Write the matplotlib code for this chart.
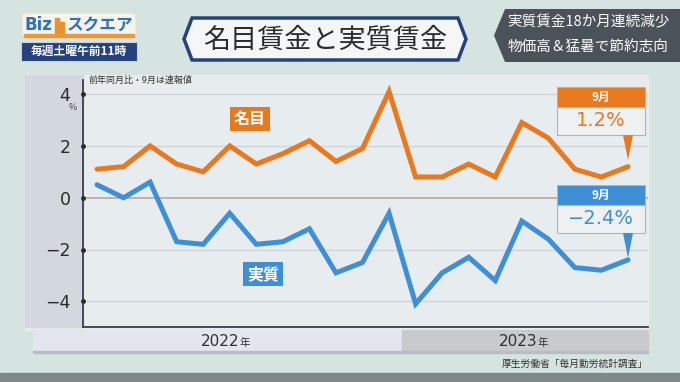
import numpy as np
import matplotlib
matplotlib.use("Agg")
from matplotlib import pyplot as plt
from matplotlib.patches import Rectangle, Polygon, FancyBboxPatch

plt.rcParams['font.family'] = ['Noto Sans CJK JP', 'DejaVu Sans']

# 2022年1月〜2023年9月 前年同月比(%)
months = ['2022-01', '2022-02', '2022-03', '2022-04', '2022-05', '2022-06', '2022-07',
          '2022-08', '2022-09', '2022-10', '2022-11', '2022-12', '2023-01', '2023-02',
          '2023-03', '2023-04', '2023-05', '2023-06', '2023-07', '2023-08', '2023-09']
nominal = [1.1, 1.2, 2.0, 1.3, 1.0, 2.0, 1.3, 1.7, 2.2, 1.4, 1.9, 4.1, 0.8, 0.8,
           1.3, 0.8, 2.9, 2.3, 1.1, 0.8, 1.2]
real = [0.5, 0.0, 0.6, -1.7, -1.8, -0.6, -1.8, -1.7, -1.2, -2.9, -2.5, -0.6, -4.1, -2.9,
        -2.3, -3.2, -0.9, -1.6, -2.7, -2.8, -2.4]
yticks = [4, 2, 0, -2, -4]
years = ['2022', '2023']

W, H = 680, 382
ORANGE = '#e8791f'
BLUE = '#3f8fd6'
NAVY = '#24427e'

fig = plt.figure(figsize=(W / 100, H / 100), dpi=100)
fig.patch.set_facecolor('#d6e4e1')

# 背景(ピクセル座標)
bg = fig.add_axes([0, 0, 1, 1])
bg.set_xlim(0, W)
bg.set_ylim(H, 0)
bg.axis('off')
bg.add_patch(Rectangle((0, 373), W, 9, color='#7d8a88', zorder=0))
bg.add_patch(Rectangle((25, 75), 623, 255, color='#e7ecef', zorder=1))
bg.add_patch(Rectangle((25, 75), 58, 252, color='#d3d8df', zorder=1))

# ロゴ
bg.add_patch(FancyBboxPatch((22, 13), 114, 25, boxstyle='round,pad=0,rounding_size=4',
                            fc='#f6f4ea', ec='#e8e0c8', lw=0.8, zorder=2))
bg.add_patch(Rectangle((24, 34), 110, 2.5, color='#e89a3a', zorder=3))
bg.text(38, 25, 'Biz', color='#2f6fc8', fontsize=12, fontweight='bold', ha='center', va='center', zorder=4,
        family=['DejaVu Sans'])
bg.add_patch(Rectangle((55, 18), 4, 15, color='#e8922e', zorder=4))
bg.add_patch(Rectangle((60, 22), 4, 11, color='#e8922e', zorder=4))
bg.text(100, 25, 'スクエア', color='#2f6fc8', fontsize=12, fontweight='bold', ha='center', va='center', zorder=4)
bg.add_patch(Rectangle((21, 42), 116, 19, color=NAVY, ec='#c8d0e0', lw=0.8, zorder=2))
bg.text(79, 51.5, '毎週土曜午前11時', color='white', fontsize=8.5, fontweight='bold', ha='center', va='center', zorder=4)

# タイトル
title_box = Polygon([(192, 18), (458, 18), (466, 39), (458, 60), (192, 60), (184, 39)],
                    closed=True, fc='#f4f6f8', ec=NAVY, lw=2.5, zorder=2)
bg.add_patch(title_box)
bg.text(325, 40, '名目賃金と実質賃金', color='#2b2b2b', fontsize=19.5, ha='center', va='center', zorder=4)

# 右上
sub_box = Polygon([(505, 9), (680, 9), (680, 62), (505, 62), (494, 35.5)],
                  closed=True, fc='#4b525a', ec='none', zorder=2)
bg.add_patch(sub_box)
bg.text(588, 22, '実質賃金18か月連続減少', color='white', fontsize=10.5, ha='center', va='center', zorder=4)
bg.text(588, 47, '物価高＆猛暑で節約志向', color='white', fontsize=10.5, ha='center', va='center', zorder=4)

# 年の帯
x0 = 97
dx = 26.55
def px(i):
    return x0 + dx * i

split = px(len([m for m in months if m.startswith(years[0])]) - 0.5)
bg.add_patch(Rectangle((33, 330), split - 33, 22, color='#e3e6ee', zorder=2))
bg.add_patch(Rectangle((split, 330), 648 - split, 22, color='#c9cacd', zorder=2))
bg.add_patch(Rectangle((33, 351), 615, 1.5, color='#b8bcc4', zorder=2))
for cx, yr in [(230, years[0]), (528, years[1])]:
    bg.text(cx + 9, 342, yr, color='#303030', fontsize=11, ha='right', va='center', zorder=4,
            family=['DejaVu Sans'])
    bg.text(cx + 9, 343, '年', color='#303030', fontsize=7.5, ha='left', va='center', zorder=4)
bg.text(648, 364, '厚生労働省「毎月勤労統計調査」', color='#333333', fontsize=7, ha='right', va='center', zorder=4)

# データ軸
left, right, top, bottom = 83, 648, 75, 327
ax = fig.add_axes([left / W, 1 - bottom / H, (right - left) / W, (bottom - top) / H])
ax.patch.set_alpha(0)
ax.set_xlim((left - x0) / dx, (right - x0) / dx)
ax.set_ylim((197.7 - bottom) / 25.9, (197.7 - top) / 25.9)
for s in ['top', 'right']:
    ax.spines[s].set_visible(False)
ax.spines['left'].set_color('#3a3f4a')
ax.spines['left'].set_linewidth(1.3)
ax.spines['left'].set_bounds(ax.get_ylim()[0], 4.55)
ax.spines['bottom'].set_color('#3a3f4a')
ax.spines['bottom'].set_linewidth(1.3)
ax.set_xticks([])
ax.set_yticks(yticks)
ax.set_yticklabels([str(t).replace('-', '−') for t in yticks], fontsize=12.5, color='#2a2a2a',
                   family=['DejaVu Sans'])
ax.tick_params(axis='y', length=0, pad=9)
for t in yticks:
    ax.axhline(t, color='#b9a4a4' if t == 0 else '#cfd3d8', lw=1.2 if t == 0 else 0.9, zorder=1)
    ax.plot([ax.get_xlim()[0]], [t], 'o', color='#2a2a2a', ms=2.5, clip_on=False, zorder=5)

xs = np.arange(len(months))
ax.plot(xs, nominal, color=ORANGE, lw=3.6, solid_joinstyle='miter', solid_capstyle='round', zorder=3)
ax.plot(xs, real, color=BLUE, lw=3.6, solid_joinstyle='miter', solid_capstyle='round', zorder=3)

fig.text(88 / W, 1 - 80 / H, '前年同月比・9月は速報値', fontsize=6.5, color='#333333', va='center', ha='left')
fig.text(73 / W, 1 - 108 / H, '%', fontsize=6.5, color='#444444', va='center', ha='center')

# 系列ラベル
ax.text(5.76, 3.04, '名目', color='white', fontsize=11.5, fontweight='bold', ha='center', va='center',
        bbox=dict(boxstyle='square,pad=0.25', fc=ORANGE, ec='none'), zorder=4)
ax.text(6.25, -2.95, '実質', color='white', fontsize=11.5, fontweight='bold', ha='center', va='center',
        bbox=dict(boxstyle='square,pad=0.25', fc=BLUE, ec='none'), zorder=4)

# 吹き出し(最前面)
ov = fig.add_axes([0, 0, 1, 1])
ov.set_xlim(0, W)
ov.set_ylim(H, 0)
ov.axis('off')
ov.patch.set_alpha(0)

def callout(ytop, color, value):
    ov.add_patch(Rectangle((557, ytop), 88, 20, fc=color, ec='#b0b4ba', lw=0.6, zorder=6))
    ov.add_patch(Rectangle((557, ytop + 20), 88, 28, fc='#eef0f2', ec='#b0b4ba', lw=0.8, zorder=6))
    ov.text(601, ytop + 10.5, '9月', color='white', fontsize=8.5, fontweight='bold', ha='center', va='center', zorder=7)
    ov.text(601, ytop + 34, value, color=color, fontsize=14, ha='center', va='center', zorder=7,
            family=['DejaVu Sans'])
    ov.add_patch(Polygon([(623, ytop + 48), (633, ytop + 48), (628, ytop + 73)], closed=True,
                         fc=color, ec='none', zorder=6))

callout(87, ORANGE, '1.2%')
callout(185, BLUE, '−2.4%')

plt.savefig('out.png', dpi=100, facecolor=fig.get_facecolor())
